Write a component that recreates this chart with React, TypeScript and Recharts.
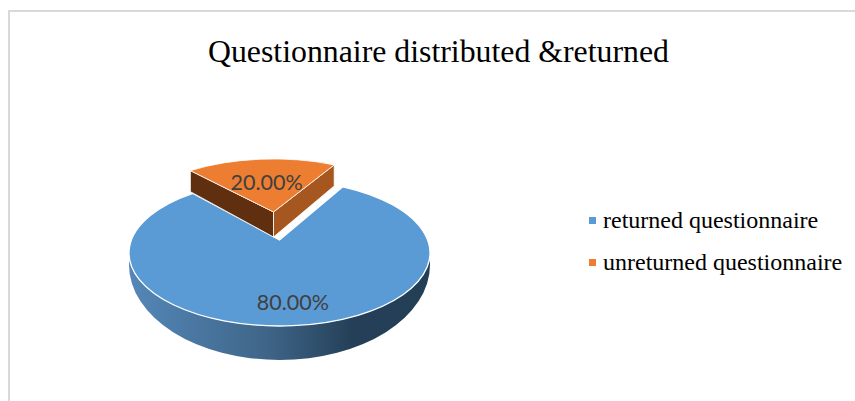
import { PieChart, Pie, Cell, Legend } from "recharts";

const categories = ["returned questionnaire", "unreturned questionnaire"];
const shares = [80, 20];
const colors = ["#5b9bd5", "#ed7d31"];
const chartTitle = "Questionnaire distributed &returned";

const data = categories.map((name, i) => ({ name, value: shares[i] }));

// how each slice sits in the tilted view (offsets from the pie centre, in px)
const views = [
  { dx: 0, dy: 0, scale: 1, squash: 0.485, apexUp: 13, labelAt: 0.85 },
  { dx: -6, dy: -29, scale: 0.965, squash: 0.448, apexUp: 12, labelAt: 0.44 },
];

const RAD = Math.PI / 180;

function rimPoint(cx: number, cy: number, r: number, squash: number, apexUp: number, deg: number) {
  const a = apexUp / squash;
  const s = Math.sin(deg * RAD);
  const c = Math.cos(deg * RAD);
  const t = -a * s + Math.sqrt(a * a * s * s - a * a + r * r);
  return { x: cx + t * c, y: cy - (a + t * s) * squash, t };
}

function TiltedSlice(props: any) {
  const { cx, cy, outerRadius, startAngle, endAngle, fill } = props;
  const index = categories.indexOf(props.name ?? props.payload?.name);
  const v = views[index];
  const ex = cx + v.dx;
  const ey = cy + v.dy;
  const r = outerRadius * v.scale;
  const ry = r * v.squash;
  const from = Math.min(startAngle, endAngle);
  const to = Math.max(startAngle, endAngle);
  const p1 = rimPoint(ex, ey, r, v.squash, v.apexUp, from);
  const p2 = rimPoint(ex, ey, r, v.squash, v.apexUp, to);
  const ax = ex;
  const ay = ey - v.apexUp;
  const large = to - from > 180 ? 1 : 0;
  const top = `M${ax},${ay} L${p1.x},${p1.y} A${r},${ry} 0 ${large} 0 ${p2.x},${p2.y} Z`;

  if (index === 0) {
    const wall = `M${ex - r},${ey} A${r},${ry} 0 0 0 ${ex + r},${ey} L${ex + r},${ey + 12} A${r},95 0 0 1 ${ex - r},${ey + 12} Z`;
    return (
      <g>
        <defs>
          <linearGradient id="wallShade" x1="0" y1="0" x2="1" y2="0">
            <stop offset="0" stopColor="#5487b8" />
            <stop offset="0.45" stopColor="#3f6689" />
            <stop offset="0.75" stopColor="#243f57" />
            <stop offset="1" stopColor="#233f56" />
          </linearGradient>
        </defs>
        <path d={wall} fill="url(#wallShade)" />
        <path d={top} fill={fill} stroke="#ffffff" strokeWidth={1.3} />
      </g>
    );
  }

  const drop = 21;
  const apexDrop = 25;
  const rightWall = `M${ax},${ay} L${p1.x},${p1.y} L${p1.x},${p1.y + drop} L${ax},${ay + apexDrop} Z`;
  const leftWall = `M${ax},${ay} L${p2.x},${p2.y} L${p2.x},${p2.y + drop} L${ax},${ay + apexDrop} Z`;
  return (
    <g>
      <path d={leftWall} fill="#5f2f10" stroke="#ffffff" strokeWidth={0.8} />
      <path d={rightWall} fill="#a5571f" stroke="#ffffff" strokeWidth={0.8} />
      <path d={top} fill={fill} stroke="#ffffff" strokeWidth={0.8} />
    </g>
  );
}

function sliceLabel(props: any) {
  const { cx, cy, midAngle, outerRadius, value, index } = props;
  const v = views[index];
  const len = outerRadius * v.labelAt;
  const x = cx + v.dx + len * Math.cos(midAngle * RAD);
  const y = cy + v.dy - v.apexUp - len * Math.sin(midAngle * RAD) * v.squash;
  return (
    <text
      x={x}
      y={y}
      textAnchor="middle"
      dominantBaseline="central"
      fontFamily="Lato, sans-serif"
      fontSize={21.5}
      fill="#404040"
    >
      {`${Number(value).toFixed(2)}%`}
    </text>
  );
}

function LegendList({ payload }: any) {
  return (
    <div style={{ fontFamily: "'Liberation Serif', serif", fontSize: 24, color: "#000" }}>
      {(payload ?? []).map((entry: any) => (
        <div key={entry.value} style={{ display: "flex", alignItems: "center", height: 42 }}>
          <span style={{ width: 7, height: 7, background: entry.color, marginRight: 7 }} />
          <span style={{ whiteSpace: "nowrap" }}>{entry.value}</span>
        </div>
      ))}
    </div>
  );
}

export default function App() {
  return (
    <div
      style={{
        position: "absolute",
        left: 0,
        top: 0,
        width: 855,
        height: 401,
        overflow: "hidden",
        background: "#fff",
      }}
    >
      <div
        style={{
          position: "absolute",
          left: 8,
          top: 10,
          width: 900,
          height: 500,
          border: "2px solid #d9d9d9",
        }}
      />
      <div
        style={{
          position: "absolute",
          left: 208,
          top: 34,
          fontFamily: "'Liberation Serif', serif",
          fontSize: 31.8,
          color: "#000",
          whiteSpace: "nowrap",
        }}
      >
        {chartTitle}
      </div>
      <div style={{ position: "absolute", left: 0, top: 0 }}>
        <PieChart width={855} height={401} margin={{ top: 0, right: 0, bottom: 0, left: 0 }}>
          <Pie
            data={data}
            dataKey="value"
            nameKey="name"
            cx={279.5}
            cy={253}
            outerRadius={150.5}
            startAngle={132}
            endAngle={492}
            paddingAngle={0}
            stroke="none"
            shape={TiltedSlice}
            label={sliceLabel}
            labelLine={false}
            isAnimationActive={false}
          >
            {data.map((d, i) => (
              <Cell key={d.name} fill={colors[i]} />
            ))}
          </Pie>
          <Legend
            content={LegendList}
            wrapperStyle={{ position: "absolute", left: 589, top: 199, width: 266 }}
          />
        </PieChart>
      </div>
    </div>
  );
}
